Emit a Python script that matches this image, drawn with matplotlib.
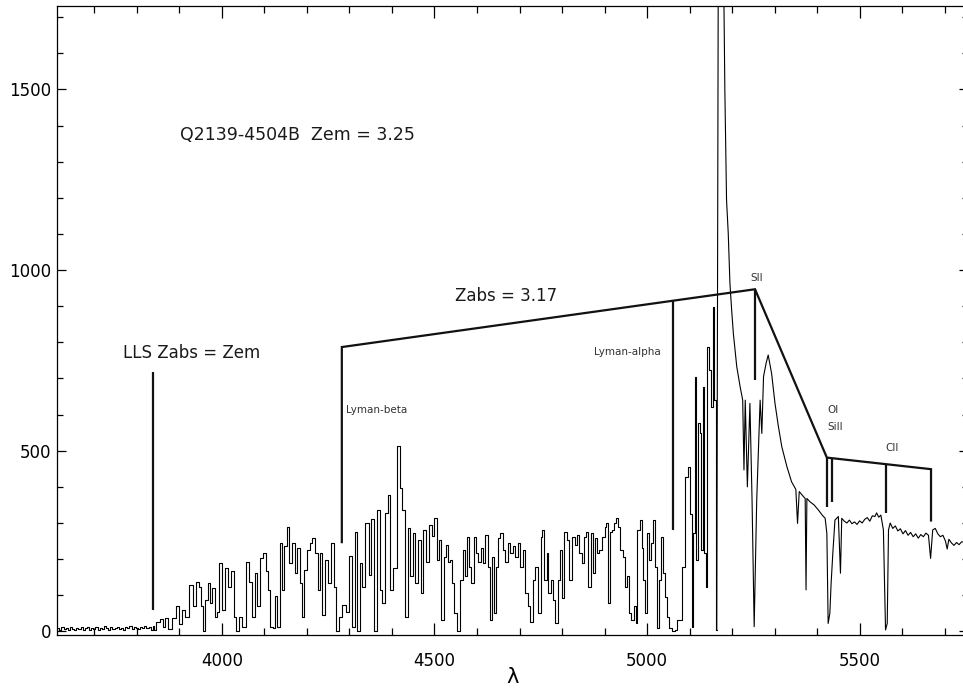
import matplotlib
matplotlib.use("Agg")
import matplotlib.pyplot as plt
from matplotlib.ticker import MultipleLocator

# --- spectrum (wavelength in A, flux in counts) ---
# flat part below the Lyman limit
wave_flat = [3615, 3620, 3625, 3630, 3635, 3640, 3645, 3650, 3655, 3660,
             3665, 3670, 3675, 3680, 3685, 3690, 3695, 3700, 3705, 3710,
             3715, 3720, 3725, 3730, 3735, 3740, 3745, 3750, 3755, 3760,
             3765, 3770, 3775, 3780, 3785, 3790, 3795, 3800, 3805, 3810,
             3815, 3820, 3825, 3830, 3835, 3840]
flux_flat = [8, 4, 11, 6, 9, 3, 12, 7, 5, 10, 6, 13, 4, 8, 11, 5, 9, 7, 12, 4,
             10, 6, 14, 8, 5, 11, 7, 9, 13, 6, 10, 4, 12, 8, 15, 7, 11, 9, 6, 13,
             10, 16, 8, 12, 5, 14]

# Lyman-beta / Lyman-alpha forest, blue half
wave_forest1 = [3842, 3850, 3858, 3863, 3870, 3878, 3885, 3897, 3903, 3910,
                3918, 3929, 3934, 3942, 3948, 3953, 3958, 3964, 3969, 3975,
                3979, 3986, 3990, 3996, 4003, 4011, 4017, 4025, 4030, 4037,
                4044, 4052, 4062, 4067, 4074, 4080, 4086, 4092, 4100, 4106,
                4111, 4115, 4123, 4128, 4132, 4139, 4144, 4150, 4156, 4161,
                4168, 4174, 4180, 4185, 4190, 4196, 4203, 4209, 4215, 4223,
                4229, 4234, 4239, 4246, 4252, 4259, 4266, 4272, 4279, 4287,
                4295, 4302, 4309, 4315, 4321, 4327, 4333, 4342, 4348, 4354,
                4360, 4368, 4374, 4381, 4388, 4393, 4400, 4407, 4415, 4421,
                4427, 4434, 4440, 4447, 4452, 4458, 4465, 4470, 4477, 4483,
                4489, 4497, 4503, 4509]
flux_forest1 = [4, 27, 34, 13, 36, 7, 36, 71, 21, 60,
                41, 129, 71, 138, 124, 69, 2, 87, 135, 78,
                120, 41, 55, 189, 60, 175, 124, 166, 41, 1,
                41, 12, 193, 138, 41, 161, 69, 203, 217, 166,
                115, 13, 9, 97, 12, 244, 115, 235, 290, 189,
                244, 161, 230, 133, 41, 170, 226, 244, 258, 217,
                115, 217, 46, 198, 133, 244, 124, 1, 41, 73,
                55, 209, 12, 276, 0, 189, 124, 300, 156, 311,
                2, 335, 115, 78, 327, 378, 115, 175, 512, 396,
                337, 41, 286, 152, 272, 133, 253, 106, 281, 193,
                295, 263, 313, 198]

# forest, red half up to the Lyman-alpha emission
wave_forest2 = [4513, 4519, 4525, 4530, 4535, 4540, 4544, 4550, 4557, 4564,
                4569, 4574, 4577, 4583, 4589, 4595, 4601, 4605, 4612, 4616,
                4623, 4629, 4633, 4638, 4642, 4646, 4652, 4658, 4663, 4670,
                4675, 4681, 4687, 4693, 4699, 4705, 4710, 4717, 4723, 4728,
                4734, 4740, 4747, 4752, 4756, 4761, 4766, 4770, 4776, 4781,
                4787, 4792, 4797, 4803, 4808, 4815, 4820, 4826, 4833, 4838,
                4844, 4848, 4854, 4859, 4864, 4870, 4875, 4880, 4885, 4891,
                4897, 4903, 4906, 4911, 4915, 4921, 4925, 4930, 4935, 4940,
                4946, 4950, 4954, 4960, 4965, 4972, 4975, 4980, 4985, 4990,
                4993, 4997, 5002, 5007, 5011, 5016, 5021, 5025, 5030, 5035,
                5040, 5044, 5050, 5055, 5062, 5068, 5073, 5078, 5085, 5093,
                5099, 5103, 5107, 5111, 5114, 5117, 5122, 5125, 5129, 5133,
                5136, 5140, 5144, 5148, 5152, 5156, 5160, 5164]
flux_forest2 = [253, 32, 207, 239, 193, 198, 133, 50, 0, 142,
                225, 152, 262, 179, 133, 262, 216, 193, 230, 189,
                267, 179, 32, 207, 50, 179, 258, 272, 225, 193,
                244, 216, 235, 207, 244, 179, 225, 106, 69, 27,
                142, 179, 50, 262, 281, 142, 216, 106, 142, 87,
                23, 142, 225, 92, 276, 253, 142, 262, 239, 267,
                216, 189, 262, 276, 124, 272, 161, 258, 216, 225,
                262, 290, 299, 78, 276, 281, 299, 313, 290, 225,
                207, 124, 152, 50, 32, 69, 23, 281, 309, 230,
                142, 50, 272, 198, 244, 309, 179, 9, 142, 262,
                161, 96, 41, 9, 0, 4, 32, 32, 179, 428,
                456, 324, 13, 271, 705, 198, 576, 548, 225, 677,
                216, 124, 788, 724, 622, 899, 640, 4]

# Lyman-alpha emission peak and the red side
wave_red = [5164, 5169, 5176, 5183, 5187, 5191, 5195, 5199, 5203, 5211,
            5219, 5225, 5228, 5231, 5236, 5242, 5247, 5252, 5258, 5266,
            5270, 5274, 5280, 5285, 5293, 5301, 5309, 5317, 5329, 5340,
            5350, 5354, 5358, 5368, 5372, 5374, 5376, 5383, 5393, 5403,
            5412, 5419, 5423, 5426, 5430, 5433, 5437, 5442, 5450, 5455,
            5458, 5464, 5470, 5476, 5482, 5488, 5494, 5500, 5506, 5512,
            5518, 5524, 5530, 5536, 5540, 5545, 5550, 5556, 5561, 5565,
            5568, 5572, 5578, 5584, 5590, 5596, 5602, 5608, 5614, 5620,
            5626, 5632, 5638, 5644, 5650, 5656, 5662, 5667, 5672, 5678,
            5684, 5690, 5696, 5702, 5706, 5710, 5716, 5722, 5728, 5734,
            5740, 5750]
flux_red = [4, 2600, 2300, 1500, 1194, 1102, 963, 890, 825, 733,
            677, 640, 447, 640, 400, 631, 364, 13, 364, 640,
            548, 705, 742, 765, 714, 631, 567, 511, 456, 414,
            393, 299, 387, 373, 368, 115, 368, 359, 350, 336,
            322, 313, 271, 22, 50, 133, 216, 308, 318, 161,
            313, 305, 300, 308, 298, 303, 296, 306, 300, 310,
            315, 305, 320, 318, 328, 316, 322, 281, 4, 22,
            281, 300, 285, 292, 278, 284, 270, 279, 266, 274,
            262, 270, 258, 268, 262, 272, 266, 202, 281, 285,
            270, 262, 266, 250, 228, 255, 245, 238, 246, 240,
            248, 246]

wave_blue = wave_flat + wave_forest1 + wave_forest2
flux_blue = flux_flat + flux_forest1 + flux_forest2

# --- line identifications (wavelength, flux of the marker ends) ---
lls_wave = 3837
lls_span = [60, 718]
zabs_path_wave = [4282, 4282, 5254, 5423, 5668, 5668]
zabs_path_flux = [244, 787, 947, 481, 449, 304]
tick_wave = [5062, 5254, 5423, 5436, 5562]
tick_top = [917, 947, 481, 479, 464]
tick_bottom = [281, 696, 345, 359, 327]

fig = plt.figure(figsize=(9.63, 6.88), dpi=100)
# right frame sits just past the image edge, as in the original
ax = fig.add_axes([57 / 963, 53 / 688, 911 / 963, 629 / 688])

# histogram look in the forest, finely sampled wing drawn as a line
ax.plot(wave_blue, flux_blue, color='black', lw=0.8, drawstyle='steps-mid')
ax.plot(wave_red, flux_red, color='black', lw=0.8)

ink = '#111111'
ax.plot([lls_wave, lls_wave], lls_span, color=ink, lw=1.6, solid_capstyle='butt')
ax.plot(zabs_path_wave, zabs_path_flux, color=ink, lw=1.6,
        solid_capstyle='butt', solid_joinstyle='miter')
for w, top, bot in zip(tick_wave, tick_top, tick_bottom):
    ax.plot([w, w], [bot, top], color=ink, lw=1.6, solid_capstyle='butt')

ax.text(3901, 1374, 'Q2139-4504B  Zem = 3.25', fontsize=12.5, color='#1a1a1a',
        ha='left', va='center')
ax.text(4548, 928, 'Zabs = 3.17', fontsize=12, color='#1a1a1a', ha='left', va='center')
ax.text(3767, 771, 'LLS Zabs = Zem', fontsize=12, color='#1a1a1a', ha='left', va='center')
small = dict(fontsize=7.5, color='#333333', ha='left', va='center')
ax.text(4292, 613, 'Lyman-beta', **small)
ax.text(4875, 774, 'Lyman-alpha', **small)
ax.text(5242, 979, 'SII', **small)
ax.text(5424, 613, 'OI', **small)
ax.text(5424, 566, 'SiII', **small)
ax.text(5560, 508, 'CII', **small)

ax.set_xlim(3612, 5755)
ax.set_ylim(-10, 1731)
ax.xaxis.set_major_locator(MultipleLocator(500))
ax.xaxis.set_minor_locator(MultipleLocator(100))
ax.yaxis.set_major_locator(MultipleLocator(500))
ax.yaxis.set_minor_locator(MultipleLocator(100))
ax.tick_params(axis='x', which='major', direction='in', length=8.5, width=0.9,
               top=True, pad=12, labelsize=12)
ax.tick_params(axis='x', which='minor', direction='in', length=5, width=0.9, top=True)
ax.tick_params(axis='y', which='major', direction='in', length=6.5, width=0.9,
               right=True, pad=4, labelsize=12)
ax.tick_params(axis='y', which='minor', direction='in', length=4.5, width=0.9, right=True)
for s in ax.spines.values():
    s.set_linewidth(0.9)

ax.set_xlabel('λ', fontsize=15, labelpad=-2)

fig.savefig('out.png', dpi=100)
